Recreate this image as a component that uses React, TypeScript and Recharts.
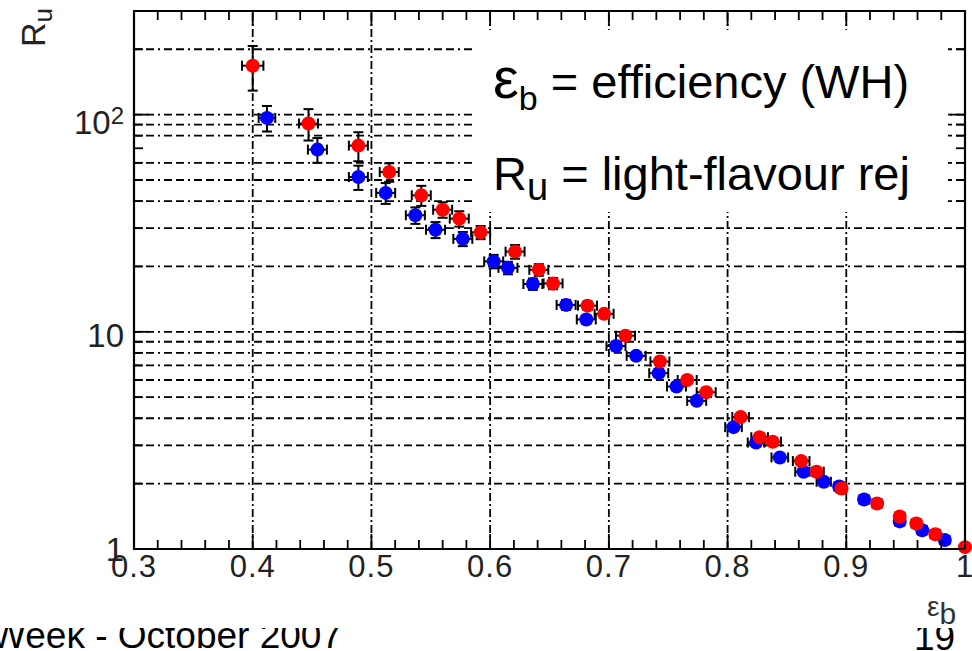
import { ScatterChart, Scatter, XAxis, YAxis, ErrorBar, ReferenceLine, ReferenceArea } from "recharts";

// efficiency (x) and light-flavour rejection (y)
const blueX = [0.412, 0.4545, 0.489, 0.512, 0.537, 0.554, 0.577, 0.603, 0.615, 0.636, 0.664, 0.681, 0.706, 0.723, 0.742, 0.757, 0.774, 0.805, 0.824, 0.844, 0.864, 0.881, 0.894, 0.915, 0.945, 0.964, 0.983];
const blueY = [96.6, 69, 51.6, 43.6, 34.4, 29.5, 26.8, 21.1, 19.7, 16.6, 13.3, 11.4, 8.6, 7.75, 6.45, 5.6, 4.81, 3.64, 3.09, 2.64, 2.27, 2.04, 1.94, 1.69, 1.34, 1.22, 1.1];
const blueXErr = [0.007, 0.008, 0.008, 0.008, 0.008, 0.008, 0.008, 0.008, 0.008, 0.008, 0.008, 0.008, 0.008, 0.008, 0.008, 0.008, 0.008, 0.007, 0.007, 0.007, 0.007, 0.006, 0.004, 0.004, 0.004, 0.004, 0.004];
const blueYErr = [13, 9, 6.6, 4.8, 3, 2.5, 2, 1.5, 1.3, 1, 0.7, 0.5, 0.4, 0.3, 0.25, 0.2, 0.15, 0.12, 0.1, 0.08, 0.06, 0.05, 0.04, 0.03, 0.02, 0.02, 0.01];

const redX = [0.4, 0.447, 0.489, 0.515, 0.542, 0.56, 0.574, 0.592, 0.621, 0.641, 0.653, 0.682, 0.696, 0.714, 0.743, 0.766, 0.782, 0.811, 0.827, 0.838, 0.862, 0.875, 0.896, 0.926, 0.945, 0.959, 0.975, 1.0];
const redY = [168, 91, 72, 54.4, 42.5, 36.5, 33.2, 28.7, 23.4, 19.3, 16.7, 13.2, 12.1, 9.6, 7.3, 6.0, 5.27, 4.05, 3.27, 3.12, 2.54, 2.27, 1.9, 1.62, 1.41, 1.31, 1.17, 1.02];
const redXErr = [0.009, 0.008, 0.008, 0.008, 0.008, 0.008, 0.008, 0.008, 0.008, 0.008, 0.008, 0.008, 0.008, 0.008, 0.008, 0.008, 0.008, 0.007, 0.007, 0.007, 0.007, 0.006, 0.004, 0.004, 0.004, 0.004, 0.004, 0];
const redYErr = [39, 15, 11, 5.3, 4.5, 3, 2.7, 2, 1.7, 1.2, 1, 0.6, 0.5, 0.4, 0.3, 0.25, 0.2, 0.15, 0.12, 0.1, 0.08, 0.06, 0.04, 0.03, 0.02, 0.02, 0.01, 0];

const xTicks = [0.3, 0.32, 0.34, 0.36, 0.38, 0.4, 0.42, 0.44, 0.46, 0.48, 0.5, 0.52, 0.54, 0.56, 0.58, 0.6, 0.62, 0.64, 0.66, 0.68, 0.7, 0.72, 0.74, 0.76, 0.78, 0.8, 0.82, 0.84, 0.86, 0.88, 0.9, 0.92, 0.94, 0.96, 0.98, 1.0];
const yTicks = [1, 2, 3, 4, 5, 6, 7, 8, 9, 10, 20, 30, 40, 50, 60, 70, 80, 90, 100, 200];
const xGrid = [0.4, 0.5, 0.6, 0.7, 0.8, 0.9];
const yGrid = [2, 3, 4, 5, 6, 7, 8, 9, 10, 20, 30, 40, 50, 60, 80, 90, 100, 200];

const blueData = blueX.map((x, i) => ({ x, y: blueY[i], ex: blueXErr[i], ey: blueYErr[i] }));
const redData = redX.map((x, i) => ({ x, y: redY[i], ex: redXErr[i], ey: redYErr[i] }));

const PLOT_TOP = 11;
const PLOT_RIGHT = 965;
const FONT = "'Liberation Sans', Arial, sans-serif";

const XTick = (p: any) => {
  const v: number = p.payload.value;
  const major = Math.abs(v * 10 - Math.round(v * 10)) < 1e-6;
  const len = major ? 15 : 9;
  const label = v === 1 ? "1" : v.toFixed(1);
  return (
    <g>
      <line x1={p.x} x2={p.x} y1={p.y} y2={p.y - len} stroke="#000" strokeWidth={1.8} />
      <line x1={p.x} x2={p.x} y1={PLOT_TOP} y2={PLOT_TOP + len} stroke="#000" strokeWidth={1.8} />
      {major && (
        <text x={p.x} y={p.y + 28} textAnchor="middle" fontSize={31} fill="#222" fontFamily={FONT} letterSpacing={1}>
          {label}
        </text>
      )}
    </g>
  );
};

const YTick = (p: any) => {
  const v: number = p.payload.value;
  const major = v === 1 || v === 10 || v === 100;
  const len = major ? 15 : 9;
  return (
    <g>
      <line x1={p.x} x2={p.x + len} y1={p.y} y2={p.y} stroke="#000" strokeWidth={1.8} />
      <line x1={PLOT_RIGHT} x2={PLOT_RIGHT - len} y1={p.y} y2={p.y} stroke="#000" strokeWidth={1.8} />
      {v === 1 && (
        <text x={p.x - 10} y={p.y + 12} textAnchor="end" fontSize={33} fill="#222" fontFamily={FONT}>1</text>
      )}
      {v === 10 && (
        <text x={p.x - 10} y={p.y + 15} textAnchor="end" fontSize={33} fill="#222" fontFamily={FONT}>10</text>
      )}
      {v === 100 && (
        <text x={p.x - 10} y={p.y + 19} textAnchor="end" fontSize={33} fill="#222" fontFamily={FONT}>
          10<tspan fontSize={24} dy={-10}>2</tspan>
        </text>
      )}
    </g>
  );
};

const dot = (color: string) => (p: any) => <circle cx={p.cx} cy={p.cy} r={7} fill={color} />;

export default function App() {
  return (
    <div style={{ position: "absolute", left: 0, top: 0, width: 972, height: 651, background: "#fff", overflow: "hidden" }}>
      <svg width={972} height={651} style={{ position: "absolute", left: 0, top: 0 }}>
        <text x={-9} y={648} fontSize={37} fontFamily={FONT} fill="#000">Week - October 2007</text>
        <text x={914} y={650} fontSize={37} fontFamily={FONT} fill="#000">19</text>
      </svg>

      <div style={{ position: "absolute", left: 0, top: 0, width: 972, height: 628, background: "#fff" }}>
        <ScatterChart width={972} height={628} margin={{ top: PLOT_TOP, right: 972 - PLOT_RIGHT, bottom: 0, left: 0 }}>
          {xGrid.map((v) => (
            <ReferenceLine key={"gx" + v} x={v} stroke="#000" strokeWidth={1.8} strokeDasharray="8 3 2 3" />
          ))}
          {yGrid.map((v) => (
            <ReferenceLine key={"gy" + v} y={v} stroke="#000" strokeWidth={1.8} strokeDasharray="8 4 8 4 2 4" />
          ))}
          <XAxis
            type="number"
            dataKey="x"
            domain={[0.3, 1]}
            ticks={xTicks}
            interval={0}
            height={79}
            tickSize={0}
            tickMargin={0}
            axisLine={false}
            tickLine={false}
            tick={XTick}
          />
          <YAxis
            type="number"
            dataKey="y"
            scale="log"
            domain={[1, 300]}
            ticks={yTicks}
            interval={0}
            width={134}
            tickSize={0}
            tickMargin={0}
            axisLine={false}
            tickLine={false}
            tick={YTick}
          />
          <Scatter data={blueData} shape={dot("#0000ff")} isAnimationActive={false}>
            <ErrorBar dataKey="ex" direction="x" width={5} stroke="#000" strokeWidth={2} isAnimationActive={false} />
            <ErrorBar dataKey="ey" direction="y" width={5} stroke="#000" strokeWidth={2} isAnimationActive={false} />
          </Scatter>
          <Scatter data={redData} shape={dot("#ff0000")} isAnimationActive={false}>
            <ErrorBar dataKey="ex" direction="x" width={5} stroke="#000" strokeWidth={2} isAnimationActive={false} />
            <ErrorBar dataKey="ey" direction="y" width={5} stroke="#000" strokeWidth={2} isAnimationActive={false} />
          </Scatter>
          <ReferenceArea x1={0.3} x2={1} y1={1} y2={300} fill="none" stroke="#000" strokeWidth={2.2} />
        </ScatterChart>
      </div>

      <svg width={972} height={651} style={{ position: "absolute", left: 0, top: 0, pointerEvents: "none" }}>
        <text x={45} y={47} transform="rotate(-90 45 47)" fontSize={34} fontFamily={FONT} fill="#222">
          R<tspan fontSize={26} dy={7}>u</tspan>
        </text>
        <text x={927} y={616} fontSize={28} fontFamily={FONT} fill="#333">
          ε<tspan fontSize={30} dy={8}>b</tspan>
        </text>
        <rect x={472} y={30} width={476} height={182} fill="#fff" />
        <text x={493} y={98} fontSize={47} fontFamily={FONT} fill="#000">
          <tspan fontSize={58}>ε</tspan>
          <tspan fontSize={34} dy={12}>b</tspan>
          <tspan dy={-12}> = efficiency (WH)</tspan>
        </text>
        <text x={493} y={190} fontSize={47} fontFamily={FONT} fill="#000">
          R<tspan fontSize={38} dy={10}>u</tspan>
          <tspan dy={-10}> = light-flavour rej</tspan>
        </text>
      </svg>
    </div>
  );
}
